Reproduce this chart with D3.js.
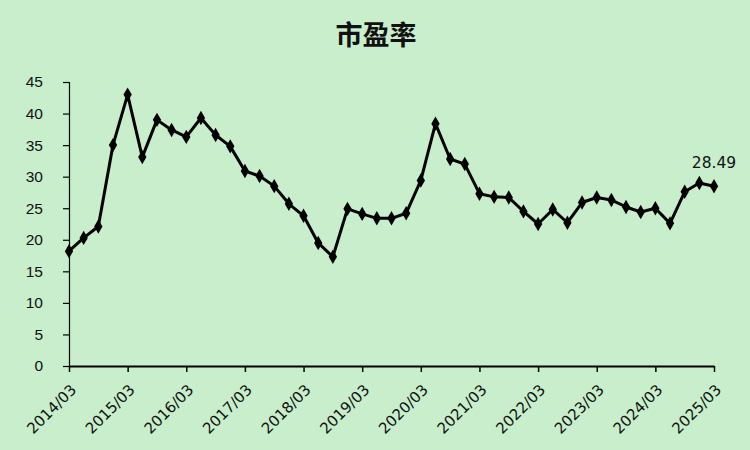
<!DOCTYPE html>
<html><head><meta charset="utf-8">
<script src="https://cdn.jsdelivr.net/npm/d3@7"></script>
<style>html,body{margin:0;padding:0;background:#c8eecc;}svg{display:block;}</style>
</head><body>
<svg id="c" width="750" height="450"></svg>
<script>
const title = "市盈率";
const quarters = ["2014/03","2014/06","2014/09","2014/12","2015/03","2015/06","2015/09","2015/12","2016/03","2016/06","2016/09","2016/12","2017/03","2017/06","2017/09","2017/12","2018/03","2018/06","2018/09","2018/12","2019/03","2019/06","2019/09","2019/12","2020/03","2020/06","2020/09","2020/12","2021/03","2021/06","2021/09","2021/12","2022/03","2022/06","2022/09","2022/12","2023/03","2023/06","2023/09","2023/12","2024/03","2024/06","2024/09","2024/12","2025/03"];
const pe = [18.2,20.3,22.1,35.0,43.0,33.1,39.0,37.4,36.3,39.3,36.6,34.8,30.9,30.1,28.5,25.7,23.8,19.5,17.3,24.9,24.1,23.4,23.4,24.2,29.4,38.4,32.8,32.0,27.3,26.8,26.7,24.5,22.5,24.8,22.7,25.9,26.7,26.3,25.2,24.4,25.0,22.6,27.6,29.0,28.49];
const xTickLabels = ["2014/03","2015/03","2016/03","2017/03","2018/03","2019/03","2020/03","2021/03","2022/03","2023/03","2024/03","2025/03"];
const yTicks = [0,5,10,15,20,25,30,35,40,45];

const svg = d3.select("#c");
const m = {l:69, r:36, t:82, b:84};
const W = 750, H = 450;
const x = d3.scalePoint().domain(quarters).range([m.l, W - m.r]);
const y = d3.scaleLinear().domain([0,45]).range([H - m.b, m.t]);

svg.append("rect").attr("width",W).attr("height",H).attr("fill","#c8eecc");

svg.append("text").attr("x",376).attr("y",45).attr("text-anchor","middle")
  .attr("font-family","'Noto Sans CJK SC'").attr("font-size",27).attr("font-weight","bold")
  .attr("fill","#111").text(title);

// y axis
const ya = svg.append("g").attr("transform",`translate(${m.l},0)`)
  .call(d3.axisLeft(y).tickValues(yTicks).tickSize(6).tickPadding(20));
ya.select(".domain").attr("stroke","#000").attr("stroke-width",1.2);
ya.selectAll(".tick line").attr("stroke","#000").attr("stroke-width",1.2);
ya.selectAll("text").attr("font-family","'Liberation Sans',Arial").attr("font-size",15.5).attr("fill","#111");

// x axis
const xa = svg.append("g").attr("transform",`translate(0,${H - m.b})`)
  .call(d3.axisBottom(x).tickValues(xTickLabels).tickSize(6).tickSizeOuter(0));
xa.select(".domain").attr("stroke","#000").attr("stroke-width",2.2);
xa.selectAll(".tick line").attr("stroke","#000").attr("stroke-width",1.5);
xa.selectAll("text").attr("font-family","'DejaVu Sans'").attr("font-size",15).attr("fill","#111")
  .attr("text-anchor","end").attr("x",0).attr("y",0).attr("dy","0.35em")
  .attr("transform","translate(4,21) rotate(-45)");

// line
const line = d3.line().x((d,i)=>x(quarters[i])).y(d=>y(d));
svg.append("path").datum(pe).attr("d",line).attr("fill","none")
  .attr("stroke","#000").attr("stroke-width",3).attr("stroke-linejoin","round");

const diamond = d3.symbol().type(d3.symbolDiamond).size(60);
svg.selectAll(".pt").data(pe).enter().append("path")
  .attr("d",diamond).attr("fill","#000")
  .attr("transform",(d,i)=>`translate(${x(quarters[i])},${y(d)})`);

// last label
const li = pe.length - 1;
svg.append("text").attr("x",x(quarters[li])).attr("y",y(pe[li]) - 18)
  .attr("text-anchor","middle").attr("font-family","'DejaVu Sans'").attr("font-size",15.5)
  .attr("fill","#111").text(pe[li].toFixed(2));
</script>
</body></html>
